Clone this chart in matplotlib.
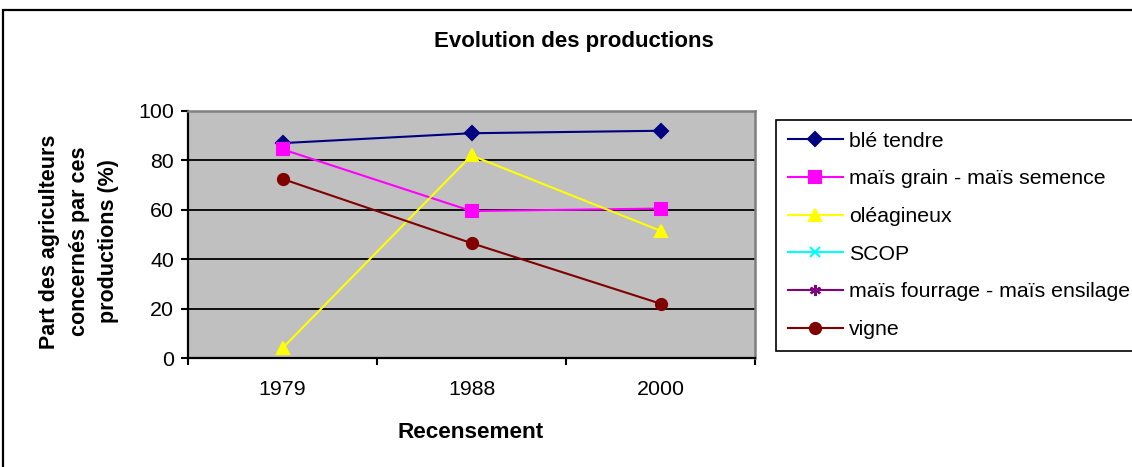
import numpy as np
import matplotlib
matplotlib.use("Agg")
import matplotlib.pyplot as plt
from matplotlib.patches import Rectangle

plt.rcParams['font.family'] = ['Liberation Sans', 'DejaVu Sans']

# Census years (categories) and share of farmers (%) per production
years = ["1979", "1988", "2000"]
ble_tendre = [87, 91, 92]
mais_grain = [84.5, 59.5, 60.5]
oleagineux = [4, 82, 51.5]
scop = [np.nan, np.nan, np.nan]
mais_fourrage = [np.nan, np.nan, np.nan]
vigne = [72.5, 46.5, 22]

series_names = ["blé tendre", "maïs grain - maïs semence", "oléagineux",
                "SCOP", "maïs fourrage - maïs ensilage", "vigne"]
series_values = [ble_tendre, mais_grain, oleagineux, scop, mais_fourrage, vigne]
series_colors = ["#000080", "#FF00FF", "#FFFF00", "#00FFFF", "#800080", "#800000"]
series_markers = ["D", "s", "^", "x", (6, 2, 0), "o"]
series_msizes = [7, 8, 9, 7, 8, 8]

W, H = 1132, 467
fig = plt.figure(figsize=(W / 100, H / 100), dpi=100)

# outer chart frame
fig.patches.append(Rectangle((3 / W, -0.05), 1.1, 1 - 10 / H + 0.05,
                             transform=fig.transFigure, fill=False,
                             edgecolor="black", linewidth=1.6))

ax = fig.add_axes([188 / W, 1 - 358 / H, (755 - 188) / W, (358 - 111) / H])
ax.set_facecolor("#C0C0C0")

x = np.arange(len(years))
for name, vals, col, mk, ms in zip(series_names, series_values, series_colors,
                                   series_markers, series_msizes):
    ax.plot(x, vals, color=col, linewidth=1.5, marker=mk, markersize=ms,
            markerfacecolor=col, markeredgecolor=col, markeredgewidth=1.5,
            label=name, clip_on=False)

ax.set_xlim(-0.5, len(years) - 0.5)
ax.set_ylim(0, 100)
ax.set_yticks(np.arange(0, 101, 20))
ax.set_xticks(x)
ax.set_xticklabels(years)
ax.set_xticks(np.arange(-0.5, len(years), 1.0), minor=True)
ax.tick_params(axis="x", which="major", length=0, pad=16, labelsize=15.4)
ax.tick_params(axis="x", which="minor", length=5, width=1.5, direction="out")
ax.tick_params(axis="y", which="major", length=5, width=1.5, direction="out",
               pad=5, labelsize=15.4)

ax.set_axisbelow(True)
ax.yaxis.grid(True, color="black", linewidth=1.3)

for side in ("left", "bottom"):
    ax.spines[side].set_color("black")
    ax.spines[side].set_linewidth(1.6)
for side in ("top", "right"):
    ax.spines[side].set_color("#808080")
    ax.spines[side].set_linewidth(1.8)

fig.text(573.5 / W, 1 - 42 / H, "Evolution des productions", ha="center",
         va="center", fontsize=16, fontweight="bold")

ax.set_xlabel("Recensement", fontsize=16.2, fontweight="bold", va="center")
ax.xaxis.set_label_coords(471 / W, 1 - 432 / H, transform=fig.transFigure)

ax.set_ylabel("Part des agriculteurs\nconcernés par ces\nproductions (%)",
              fontsize=15.5, fontweight="bold", ha="center", va="center",
              multialignment="center", linespacing=1.56)
ax.yaxis.set_label_coords(79 / W, 1 - 241.5 / H, transform=fig.transFigure)

leg = ax.legend(loc="upper left",
                bbox_to_anchor=(776 / W, 1 - 347 / H, (1150 - 776) / W, (347 - 120) / H),
                bbox_transform=fig.transFigure, mode="expand",
                fontsize=15.3, frameon=True, fancybox=False, shadow=False,
                edgecolor="black", framealpha=1, borderaxespad=0,
                borderpad=0.55, labelspacing=0.88, handlelength=2.6,
                handletextpad=0.3)
leg.get_frame().set_linewidth(1.2)

fig.savefig("out.png", dpi=100)
